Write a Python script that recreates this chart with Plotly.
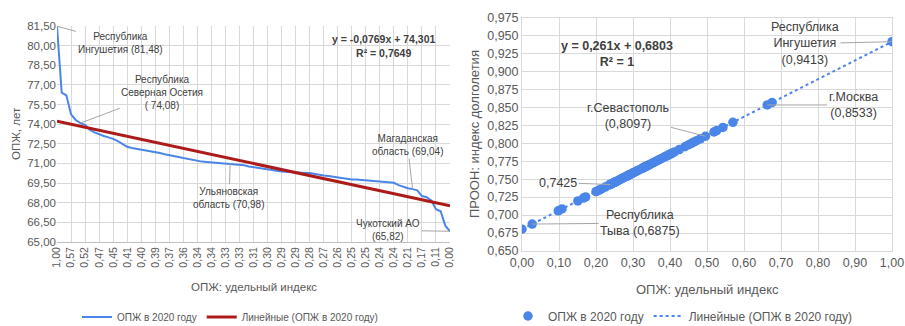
import plotly.graph_objects as go

# ---------------- data ----------------
# life expectancy 2020 (years), regions sorted descending
le_2020 = [81.48, 76.41, 76.20, 74.75, 74.32, 74.08, 73.95, 73.58, 73.37, 73.21,
           73.10, 72.99, 72.88, 72.71, 72.48, 72.27, 72.18, 72.12, 72.05, 71.99,
           71.94, 71.90, 71.80, 71.71, 71.65, 71.58, 71.49, 71.41, 71.33, 71.25,
           71.19, 71.14, 71.11, 71.08, 71.05, 71.02, 70.99, 70.98, 70.96, 70.93,
           70.86, 70.77, 70.71, 70.66, 70.60, 70.53, 70.49, 70.44, 70.39, 70.36,
           70.33, 70.31, 70.30, 70.28, 70.27, 70.20, 70.14, 70.08, 70.05, 70.00,
           69.92, 69.86, 69.81, 69.78, 69.77, 69.74, 69.70, 69.67, 69.63, 69.58,
           69.56, 69.55, 69.52, 69.34, 69.20, 69.11, 69.04, 68.95, 68.51, 68.42,
           68.18, 67.51, 67.35, 66.25, 65.82]

# ОПЖ: удельный индекс (same order)
opzh_index = [1.0000, 0.6760, 0.6628, 0.5700, 0.5430, 0.5262, 0.5190, 0.4958, 0.4820, 0.4720,
              0.4650, 0.4580, 0.4510, 0.4400, 0.4250, 0.4120, 0.4060, 0.4020, 0.3980, 0.3940,
              0.3910, 0.3880, 0.3820, 0.3760, 0.3720, 0.3680, 0.3620, 0.3570, 0.3520, 0.3470,
              0.3430, 0.3400, 0.3380, 0.3360, 0.3340, 0.3320, 0.3300, 0.3295, 0.3280, 0.3260,
              0.3220, 0.3160, 0.3120, 0.3090, 0.3050, 0.3010, 0.2980, 0.2950, 0.2920, 0.2900,
              0.2880, 0.2870, 0.2860, 0.2850, 0.2840, 0.2800, 0.2760, 0.2720, 0.2700, 0.2670,
              0.2620, 0.2580, 0.2550, 0.2530, 0.2520, 0.2500, 0.2480, 0.2460, 0.2430, 0.2400,
              0.2390, 0.2383, 0.2360, 0.2250, 0.2160, 0.2100, 0.2056, 0.2000, 0.1720, 0.1660,
              0.1510, 0.1080, 0.0980, 0.0276, 0.0000]

# ПРООН: индекс долголетия (same order)
undp_index = [0.9413, 0.8567, 0.8533, 0.8291, 0.8220, 0.8176, 0.8158, 0.8097, 0.8061, 0.8035,
              0.8017, 0.7998, 0.7980, 0.7951, 0.7912, 0.7878, 0.7863, 0.7852, 0.7842, 0.7831,
              0.7824, 0.7816, 0.7800, 0.7784, 0.7774, 0.7764, 0.7748, 0.7735, 0.7722, 0.7709,
              0.7698, 0.7690, 0.7685, 0.7680, 0.7675, 0.7670, 0.7664, 0.7663, 0.7659, 0.7654,
              0.7643, 0.7628, 0.7617, 0.7610, 0.7599, 0.7589, 0.7581, 0.7573, 0.7565, 0.7560,
              0.7555, 0.7552, 0.7550, 0.7547, 0.7544, 0.7534, 0.7523, 0.7513, 0.7508, 0.7500,
              0.7487, 0.7476, 0.7469, 0.7463, 0.7461, 0.7456, 0.7450, 0.7445, 0.7437, 0.7429,
              0.7427, 0.7425, 0.7419, 0.7390, 0.7367, 0.7351, 0.7340, 0.7325, 0.7252, 0.7236,
              0.7197, 0.7085, 0.7059, 0.6875, 0.6803]

left_y_ticks = [65.0, 66.5, 68.0, 69.5, 71.0, 72.5, 74.0, 75.5, 77.0, 78.5, 80.0, 81.5]

# trend coefficients shown on the chart
left_slope, left_intercept = -0.0769, 74.301
right_slope, right_intercept = 0.261, 0.6803

series_name = "ОПЖ в 2020 году"
trend_name = "Линейные (ОПЖ в 2020 году)"

# ---------------- figure ----------------
W, H = 905, 326
positions = list(range(1, len(le_2020) + 1))
tick_pos = positions[::3]
tick_txt = [f"{opzh_index[p - 1]:.2f}".replace(".", ",") for p in tick_pos]

left_trend_x = [positions[0], positions[-1]]
left_trend_y = [left_slope * x + left_intercept for x in left_trend_x]
right_trend_x = [min(opzh_index), max(opzh_index)]
right_trend_y = [right_slope * x + right_intercept for x in right_trend_x]

BLUE = "#4a86e8"
RED = "#ac1a1a"
GRID = "#d9d9d9"
TXT = "#595959"
NARROW = "Liberation Sans, Arial, sans-serif"
ARIAL = "Liberation Sans, Arial, sans-serif"

fig = go.Figure()
fig.add_trace(go.Scatter(x=positions, y=le_2020, mode="lines", name=series_name,
                         line=dict(color=BLUE, width=2), xaxis="x", yaxis="y", legend="legend"))
fig.add_trace(go.Scatter(x=left_trend_x, y=left_trend_y, mode="lines", name=trend_name,
                         line=dict(color=RED, width=3), xaxis="x", yaxis="y", legend="legend"))
fig.add_trace(go.Scatter(x=opzh_index, y=undp_index, mode="markers", name=series_name,
                         marker=dict(color=BLUE, size=9.5), xaxis="x2", yaxis="y2", legend="legend2"))
fig.add_trace(go.Scatter(x=right_trend_x, y=right_trend_y, mode="lines", name=trend_name,
                         line=dict(color=BLUE, width=2, dash="dot"), xaxis="x2", yaxis="y2",
                         legend="legend2"))


def px(x):
    return x / W


def py(y):
    return 1 - y / H


fig.update_layout(
    width=W, height=H,
    margin=dict(l=0, r=0, t=0, b=0, autoexpand=False),
    paper_bgcolor="white", plot_bgcolor="white",
    separators=", ",
    showlegend=True,
    xaxis=dict(domain=[px(57), px(450)], range=[1, 85], tickmode="array",
               tickvals=tick_pos, ticktext=tick_txt, tickangle=-90, automargin=False,
               showgrid=True, gridcolor=GRID, gridwidth=1, zeroline=False,
               showline=True, linecolor="#bfbfbf", ticks="",
               tickfont=dict(family=NARROW, size=10.5, color=TXT), anchor="y"),
    yaxis=dict(domain=[py(242), py(26)], range=[65, 81.5], tickmode="array",
               tickvals=left_y_ticks, tickformat=".2f", automargin=False,
               showgrid=True, gridcolor=GRID, zeroline=False, showline=False, ticks="",
               tickfont=dict(family=NARROW, size=11.5, color=TXT), anchor="x"),
    xaxis2=dict(domain=[px(522), px(892)], range=[0, 1], dtick=0.1, tick0=0, tickformat=".2f",
                showgrid=True, gridcolor=GRID, zeroline=False, automargin=False,
                showline=True, linecolor=GRID, mirror=True, ticks="",
                tickfont=dict(family=ARIAL, size=12.5, color=TXT), anchor="y2"),
    yaxis2=dict(domain=[py(251), py(17.5)], range=[0.65, 0.975], dtick=0.025, tick0=0.65,
                tickformat=".3f", showgrid=True, gridcolor=GRID, zeroline=False, automargin=False,
                showline=True, linecolor=GRID, mirror=True, ticks="",
                tickfont=dict(family=ARIAL, size=12.5, color=TXT), anchor="x2"),
    legend=dict(orientation="h", x=px(230), xanchor="center", y=py(317), yanchor="middle",
                font=dict(family=NARROW, size=10, color=TXT), bgcolor="rgba(0,0,0,0)",
                itemwidth=30, tracegroupgap=0),
    legend2=dict(orientation="h", x=px(683), xanchor="center", y=py(316), yanchor="middle",
                 font=dict(family=ARIAL, size=12, color=TXT), bgcolor="rgba(0,0,0,0)",
                 itemwidth=30),
)

ann = []
# axis titles
ann.append(dict(text="ОПЖ, лет", xref="paper", yref="paper", x=px(16), y=py(134),
                xanchor="center", yanchor="middle",
                textangle=-90, showarrow=False, font=dict(family=NARROW, size=11.5, color=TXT)))
ann.append(dict(text="ОПЖ: удельный индекс", xref="paper", yref="paper", x=px(254), y=py(287),
                xanchor="center", yanchor="middle",
                showarrow=False, font=dict(family=NARROW, size=11.5, color=TXT)))
ann.append(dict(text="ПРООН: индекс долголетия", xref="paper", yref="paper", x=px(474), y=py(134),
                xanchor="center", yanchor="middle",
                textangle=-90, showarrow=False, font=dict(family=ARIAL, size=13, color=TXT)))
ann.append(dict(text="ОПЖ: удельный индекс", xref="paper", yref="paper", x=px(707), y=py(289),
                xanchor="center", yanchor="middle",
                showarrow=False, font=dict(family=ARIAL, size=13, color=TXT)))
# equations
ann.append(dict(text="<b>y = -0,0769x + 74,301<br>R² = 0,7649</b>", xref="paper", yref="paper",
                x=px(383), y=py(46), xanchor="center", yanchor="middle",
                showarrow=False, align="center",
                font=dict(family=NARROW, size=10.5, color="#404040")))
ann.append(dict(text="<b>y = 0,261x + 0,6803<br>R² = 1</b>", xref="paper", yref="paper",
                x=px(617), y=py(54), xanchor="center", yanchor="middle",
                showarrow=False, align="center",
                font=dict(family=ARIAL, size=12.5, color="#404040")))

lab_font_l = dict(family=NARROW, size=10, color="#404040")
lab_font_r = dict(family=ARIAL, size=12.5, color="#404040")
arrow = dict(showarrow=True, arrowhead=0, arrowwidth=1, arrowcolor="#a6a6a6", align="center")


def lab_left(pos, text, ax, ay):
    ann.append(dict(text=text, x=pos, y=le_2020[pos - 1], xref="x", yref="y",
                    ax=ax, ay=ay, font=lab_font_l, **arrow))


lab_left(1, "Республика<br>Ингушетия (81,48)", 63, 17)
lab_left(6, "Республика<br>Северная Осетия<br>( 74,08)", 82, -31)
lab_left(38, "Ульяновская<br>область (70,98)", -1, 34)
lab_left(77, "Магаданская<br>область (69,04)", -5, -44)
lab_left(85, "Чукотский АО<br>(65,82)", -62, -1)


def lab_right(i, text, ax, ay):
    ann.append(dict(text=text, x=opzh_index[i], y=undp_index[i], xref="x2", yref="y2",
                    ax=ax, ay=ay, font=lab_font_r, **arrow))


lab_right(0, "Республика<br>Ингушетия<br>(0,9413)", -87, 2)
lab_right(2, "г.Москва<br>(0,8533)", 86, 0)
lab_right(7, "г.Севастополь<br>(0,8097)", -77, -20)
lab_right(71, "0,7425", -52, -2)
lab_right(83, "Республика<br>Тыва (0,6875)", 108, -1)

fig.update_layout(annotations=ann)
fig.write_html("out.html", config={"displayModeBar": False},
               post_script="document.body.style.margin='0px';document.body.style.overflow='hidden';")
